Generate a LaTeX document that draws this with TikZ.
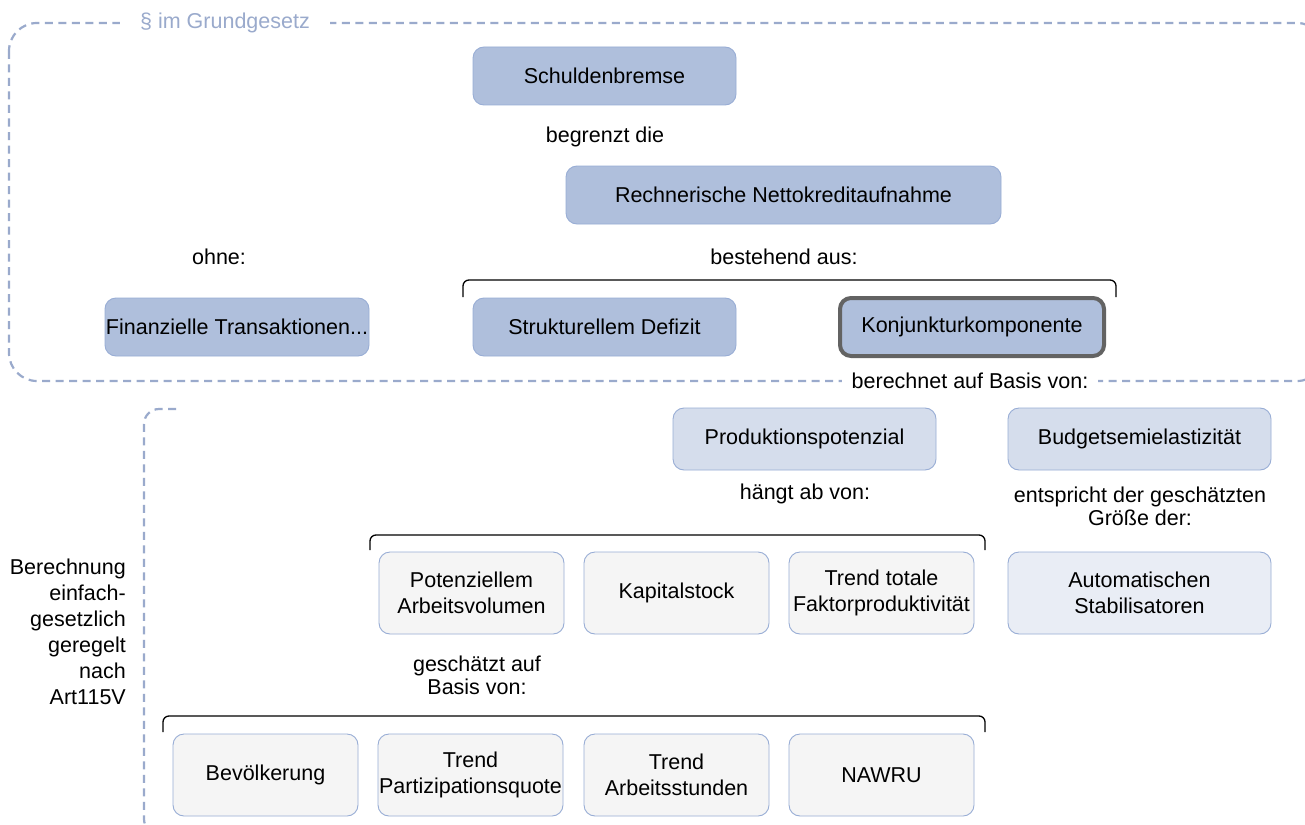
\documentclass[tikz,border=0pt]{standalone}
\usepackage{fontspec}
\setmainfont{Liberation Sans}
\definecolor{darkfill}{HTML}{AFBFDC}
\definecolor{midfill}{HTML}{D5DDEC}
\definecolor{lightfill}{HTML}{E9EDF5}
\definecolor{grayfill}{HTML}{F5F5F5}
\definecolor{boxline}{HTML}{98ADD5}
\definecolor{dashcol}{HTML}{9AAACC}
\definecolor{thickline}{HTML}{636363}
\tikzset{
  base/.style={rounded corners=11pt, draw=boxline, line width=0.9pt, align=center,
    font=\fontsize{21.5}{26}\selectfont, inner sep=0pt},
  boxA/.style={base, fill=darkfill, minimum width=263pt, minimum height=58pt},
  boxB/.style={base, fill=midfill, minimum width=263pt, minimum height=62pt},
  boxC/.style={base, fill=grayfill, minimum width=185pt, minimum height=82pt},
  boxD/.style={base, fill=lightfill, minimum width=263pt, minimum height=82pt},
  lbl/.style={align=center, font=\fontsize{21.5}{23}\selectfont, inner sep=0pt},
  brace/.style={draw=black, line width=1.3pt, rounded corners=6pt},
  dashbox/.style={draw=dashcol, line width=2.2pt, dash pattern=on 8pt off 5.5pt, rounded corners=28pt},
}
\begin{document}
\begin{tikzpicture}[x=1pt,y=-1pt]
\useasboundingbox (0,0) rectangle (1305,824);
\fill[white] (0,0) rectangle (1305,824);
\begin{scope}
\clip (0,0) rectangle (1305,824);
\draw[dashbox] (9,23) rectangle (1325,381);
\draw[dashbox, rounded corners=15pt] (176,409) -- (144,409) -- (144,834) -- (220,834);
\end{scope}
\node[lbl, fill=white, text=dashcol, inner xsep=20pt, inner ysep=3pt] (gg) at (225,23) {\S{} im Grundgesetz};
\node[lbl, fill=white, inner xsep=10pt, inner ysep=3pt] (bab) at (970,381) {berechnet auf Basis von:};

% top level
\node[boxA] (sb) at (604.5,76) {Schuldenbremse};
\node[lbl] (bd) at (605,137) {begrenzt die};
\node[boxA, minimum width=435pt] (rn) at (783.5,195) {Rechnerische Nettokreditaufnahme};
\node[lbl] (oh) at (219,257) {ohne:};
\node[lbl] (ba) at (784,257) {bestehend aus:};
\coordinate (b1a) at (463,297);
\coordinate (b1b) at (1116,297);
\draw[brace] (b1a) -- (463,280) -- (1116,280) -- (b1b);
\node[boxA, minimum width=264pt] (ft) at (237,327) {Finanzielle Transaktionen...};
\node[boxA] (sd) at (604.5,327) {Strukturellem Defizit};
\node[boxA, draw=thickline, line width=4pt, minimum width=264pt, minimum height=58pt] (kk) at (972,327) {Konjunkturkomponente};

% second level
\node[boxB] (pp) at (804.5,439) {Produktionspotenzial};
\node[boxB] (bs) at (1139.5,439) {Budgetsemielastizität};
\node[lbl] (ha) at (805,494) {hängt ab von:};
\node[lbl] (eg) at (1140,506) {entspricht der geschätzten\\Größe der:};
\coordinate (b2a) at (370,550);
\coordinate (b2b) at (985,550);
\draw[brace] (b2a) -- (370,535) -- (985,535) -- (b2b);
\node[boxC] (pa) at (471.5,593) {Potenziellem\\Arbeitsvolumen};
\node[boxC] (ks) at (676.5,593) {Kapitalstock};
\node[boxC] (tf) at (881.5,593) {Trend totale\\Faktorproduktivität};
\node[boxD] (as) at (1139.5,593) {Automatischen\\Stabilisatoren};
\node[lbl] (gb) at (477,675) {geschätzt auf\\Basis von:};
\coordinate (b3a) at (163,732);
\coordinate (b3b) at (985,732);
\draw[brace] (b3a) -- (163,716) -- (985,716) -- (b3b);
\node[boxC] (bv) at (265.5,775) {Bevölkerung};
\node[boxC] (tp) at (470.5,775) {Trend\\Partizipationsquote};
\node[boxC] (ta) at (676.5,775) {Trend\\Arbeitsstunden};
\node[boxC] (nw) at (881.5,775) {NAWRU};

\node[align=right, anchor=east, font=\fontsize{21.5}{26}\selectfont, inner sep=0pt] (be) at (126,632)
  {Berechnung\\einfach-\\gesetzlich\\geregelt\\nach\\Art115V};
\end{tikzpicture}
\end{document}
